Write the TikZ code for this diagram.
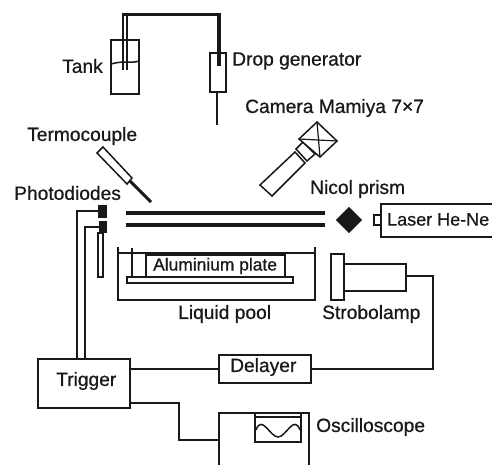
\documentclass[tikz,border=0pt]{standalone}
\usepackage{fontspec}
\setmainfont[FakeBold=0.7]{Liberation Sans}
\tikzset{
  lab/.style={font=\fontsize{19.2}{20}\selectfont, inner sep=0pt, anchor=west, text=black!90},
  box/.style={draw=black!90, line width=1.5pt, fill=white},
  wire/.style={draw=black!90, line width=1.5pt},
  thick line/.style={draw=black!90, line width=3pt},
}
\begin{document}
\begin{tikzpicture}[x=1pt,y=-1pt]
\useasboundingbox (0,0) rectangle (492,465);
% tank and tubes
\draw[box] (111,40) rectangle (139,94);
\draw[wire] (111,64) .. controls (125,60) and (130,64) .. (139,61);
\draw[wire] (123,70) -- (123,15);
\draw[wire] (127,70) -- (127,15);
\draw[thick line,line join=miter] (122,15) -- (219,15) -- (219,53);
\draw[box] (210,53) rectangle (226,92);
\draw[draw=black!90,line width=4pt] (218.5,15) -- (218.5,66);
\draw[draw=black!90,line width=2.8pt] (217,92) -- (217,125);
\node[lab] (tank) at (62,66) {Tank};
\node[lab] (drop) at (232,61) {Drop generator};
\node[lab] (camera) at (245,108) {Camera Mamiya 7×7};
\node[lab] (termo) at (27,136) {Termocouple};
\node[lab] (photo) at (14,193) {Photodiodes};
\node[lab] (nicol) at (310,189) {Nicol prism};
% thermocouple
\draw[box] (97,153) -- (103,147) -- (132,178) -- (127,184) -- cycle;
\draw[draw=black!90,line width=3pt] (130,181) -- (151,202);
% camera
\draw[box] (260,185) -- (295,152) -- (305,163) -- (272,196) -- cycle;
\draw[box] (296,149) -- (303,142) -- (315,154) -- (307,161) -- cycle;
\draw[box] (317,122) -- (337,141) -- (320,157) -- (299,139) -- cycle;
\draw[wire,line width=1.2pt] (317,122) -- (320,157) (299,139) -- (337,141);
% plates
\draw[draw=black!90,line width=3.4pt] (126,213) -- (325,213);
\draw[draw=black!90,line width=3.4pt] (126,225) -- (325,225);
% prism and laser
\node[draw=none,fill=black!90,minimum size=18.5pt,inner sep=0pt,rotate=45] (prism) at (349,220) {};
\draw[wire] (380,215) -- (374,215) -- (374,225) -- (380,225);
\draw[wire] (492,204) -- (381,204) -- (381,237) -- (492,237);
\node[lab,font=\fontsize{18}{20}\selectfont] (laser) at (387,219.5) {Laser He-Ne};
% pool
\draw[wire] (118,247) -- (118,300) -- (315,300) -- (315,247);
\draw[wire] (118,253) -- (315,253);
\draw[wire] (132,248) -- (132,277);
\draw[box] (146,255) rectangle (285,277);
\draw[box] (127,277) rectangle (293,283);
\node[lab,font=\fontsize{17.4}{18}\selectfont] (plate) at (153,266) {Aluminium plate};
\node[lab] (pool) at (178,314) {Liquid pool};
% photodiodes
\draw[box] (98,233) rectangle (103,277);
\fill[black!90] (98,205) rectangle (107,218);
\fill[black!90] (99,221) rectangle (107,233);
\draw[wire] (98,211) -- (77,211) -- (77,359);
\draw[wire] (99,227) -- (85,227) -- (85,359);
% bottom
\node[box,minimum width=92pt,minimum height=49pt,inner sep=0pt] (trigger) at (84,383.5) {};
\node[lab] at (56,381) {Trigger};
\node[box,minimum width=92pt,minimum height=28pt,inner sep=0pt] (delayer) at (265,369) {};
\node[lab] at (230,367) {Delayer};
\coordinate (sc) at (219,440);
\draw[wire] (trigger.east |- delayer.west) -- (delayer.west);
\draw[wire] (130,403) -- (179,403) -- (179,440) -- (sc);
\draw[wire] (219,465) -- (219,413) -- (309,413) -- (309,465);
\draw[box] (255,413) rectangle (301,442);
\draw[wire] (255,417) -- (301,417);
\draw[wire] (256,430) .. controls (262,414) and (270,437) .. (278,437) .. controls (286,437) and (294,414) .. (300,430);
\node[lab] at (316,427) {Oscilloscope};
% stroboscope
\draw[box] (331,254) rectangle (344,300);
\draw[wire] (344,264) -- (406,264) -- (406,291) -- (344,291);
\draw[wire] (406,276) -- (433,276) -- (433,369) -- (311,369);
\node[lab] at (322,314) {Strobolamp};
\end{tikzpicture}
\end{document}
